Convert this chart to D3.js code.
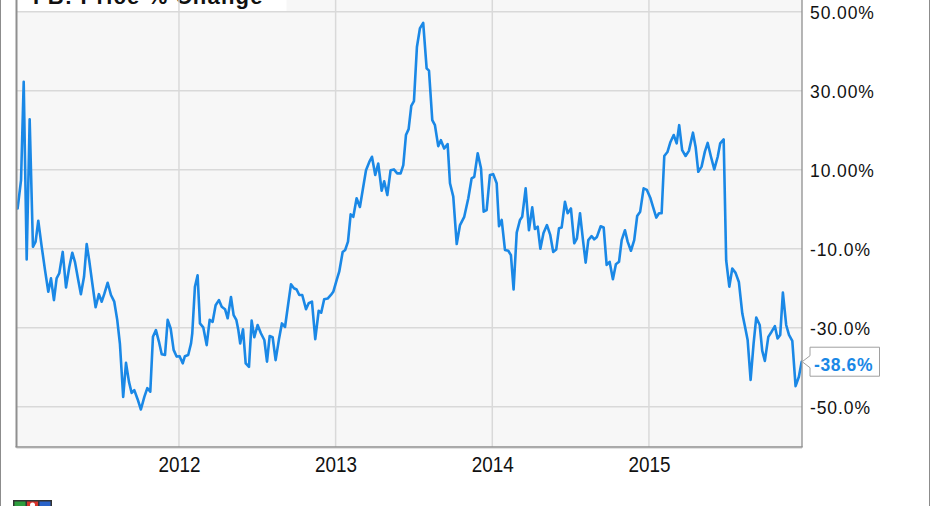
<!DOCTYPE html>
<html>
<head>
<meta charset="utf-8">
<script src="https://cdn.jsdelivr.net/npm/d3@7"></script>
<style>
  html, body { margin: 0; padding: 0; background: #fff; }
  svg { display: block; font-family: "Liberation Sans", Arial, sans-serif; }
</style>
</head>
<body>
<svg id="chart" width="931" height="506"></svg>
<script>
// ---- data ----
const dates = [
  2010.970, 2010.992, 2011.009, 2011.028, 2011.047, 2011.068, 2011.085, 2011.102, 2011.124, 2011.145,
  2011.166, 2011.183, 2011.202, 2011.219, 2011.236, 2011.258, 2011.279, 2011.300, 2011.319, 2011.336,
  2011.357, 2011.374, 2011.394, 2011.411, 2011.427, 2011.447, 2011.468, 2011.489, 2011.507, 2011.523,
  2011.545, 2011.566, 2011.587, 2011.606, 2011.623, 2011.644, 2011.662, 2011.681, 2011.698, 2011.715,
  2011.736, 2011.757, 2011.779, 2011.798, 2011.817, 2011.834, 2011.853, 2011.872, 2011.890, 2011.911,
  2011.928, 2011.947, 2011.966, 2011.985, 2012.004, 2012.024, 2012.038, 2012.059, 2012.077, 2012.085,
  2012.102, 2012.119, 2012.134, 2012.155, 2012.177, 2012.196, 2012.215, 2012.234, 2012.255, 2012.273,
  2012.294, 2012.311, 2012.332, 2012.349, 2012.366, 2012.379, 2012.391, 2012.409, 2012.426, 2012.447,
  2012.464, 2012.481, 2012.502, 2012.523, 2012.545, 2012.562, 2012.579, 2012.598, 2012.617, 2012.638,
  2012.657, 2012.677, 2012.698, 2012.715, 2012.734, 2012.751, 2012.768, 2012.787, 2012.811, 2012.828,
  2012.849, 2012.870, 2012.892, 2012.908, 2012.927, 2012.949, 2012.970, 2012.985, 2013.007, 2013.023,
  2013.045, 2013.061, 2013.079, 2013.096, 2013.113, 2013.134, 2013.155, 2013.173, 2013.194, 2013.215,
  2013.232, 2013.253, 2013.272, 2013.294, 2013.310, 2013.330, 2013.351, 2013.372, 2013.393, 2013.415,
  2013.432, 2013.449, 2013.466, 2013.483, 2013.500, 2013.519, 2013.538, 2013.559, 2013.581, 2013.596,
  2013.617, 2013.634, 2013.655, 2013.672, 2013.693, 2013.715, 2013.730, 2013.751, 2013.773, 2013.794,
  2013.821, 2013.847, 2013.868, 2013.885, 2013.907, 2013.928, 2013.945, 2013.964, 2013.985, 2014.006,
  2014.028, 2014.043, 2014.060, 2014.081, 2014.102, 2014.119, 2014.136, 2014.156, 2014.177, 2014.191,
  2014.213, 2014.234, 2014.255, 2014.272, 2014.290, 2014.307, 2014.327, 2014.349, 2014.370, 2014.389,
  2014.408, 2014.426, 2014.443, 2014.464, 2014.481, 2014.502, 2014.523, 2014.540, 2014.560, 2014.579,
  2014.596, 2014.613, 2014.634, 2014.651, 2014.668, 2014.692, 2014.711, 2014.730, 2014.749, 2014.770,
  2014.789, 2014.809, 2014.826, 2014.847, 2014.864, 2014.885, 2014.906, 2014.925, 2014.944, 2014.966,
  2014.987, 2015.008, 2015.027, 2015.047, 2015.064, 2015.081, 2015.098, 2015.118, 2015.136, 2015.158,
  2015.177, 2015.193, 2015.212, 2015.234, 2015.255, 2015.281, 2015.298, 2015.315, 2015.336, 2015.357,
  2015.375, 2015.396, 2015.417, 2015.439, 2015.455, 2015.477, 2015.493, 2015.513, 2015.532, 2015.553,
  2015.574, 2015.596, 2015.613, 2015.630, 2015.649, 2015.668, 2015.685, 2015.707, 2015.723, 2015.740,
  2015.762, 2015.783, 2015.804, 2015.821, 2015.838, 2015.855, 2015.876, 2015.894, 2015.915, 2015.936,
  2015.957, 2015.975
];
const values = [
  0.2, 7.4, 32.3, -12.7, 22.8, -9.5, -8.2, -2.9, -9.5, -15.4,
  -20.9, -17.5, -23.0, -17.5, -16.2, -10.8, -19.8, -14.6, -11.0, -13.3,
  -17.9, -21.5, -17.1, -8.8, -12.9, -18.8, -24.8, -21.5, -23.4, -21.5,
  -18.6, -21.7, -23.4, -28.0, -34.0, -47.5, -38.9, -43.7, -46.5, -45.8,
  -48.1, -50.7, -47.5, -45.3, -46.2, -32.3, -30.6, -33.5, -36.7, -36.9,
  -28.0, -30.2, -35.6, -37.3, -37.2, -39.0, -37.2, -36.9, -34.0, -31.4,
  -19.6, -16.7, -28.9, -29.9, -34.4, -28.0, -28.5, -24.3, -23.0, -24.7,
  -25.3, -27.6, -22.2, -26.8, -28.0, -30.6, -34.0, -30.4, -39.0, -39.9,
  -28.2, -32.4, -29.3, -31.4, -33.1, -38.6, -32.1, -32.4, -38.2, -33.0,
  -28.9, -29.8, -23.8, -19.0, -20.0, -20.3, -21.7, -21.7, -25.3, -23.8,
  -23.4, -32.9, -25.7, -26.2, -22.8, -22.6, -21.7, -20.9, -17.9, -15.8,
  -10.8, -10.3, -8.2, -1.3, -1.9, 2.8, 0.6, 4.9, 9.9, 12.0,
  13.3, 8.7, 11.6, 4.7, 7.1, 3.6, 9.9, 10.1, 9.1, 9.1,
  11.2, 18.8, 20.3, 26.2, 27.4, 41.1, 45.8, 47.2, 35.7, 35.1,
  22.6, 21.3, 16.0, 17.5, 15.4, 16.5, 6.6, 3.2, -8.8, -4.0,
  -1.9, 2.8, 7.8, 8.2, 14.2, 10.4, -0.6, -0.2, 8.7, 8.9,
  6.6, -4.3, -2.7, -10.3, -10.5, -11.6, -20.3, -5.9, -2.7, -1.9,
  5.3, -5.3, 0.5, -5.0, -4.4, -10.0, -6.0, -4.0, -6.5, -10.8,
  -10.2, -4.8, -4.6, 1.9, -1.0, 0.2, -8.6, -7.4, -1.0, -7.8,
  -13.5, -7.8, -6.8, -7.6, -7.0, -4.3, -4.6, -14.1, -13.3, -17.7,
  -13.9, -13.3, -7.8, -5.3, -8.2, -10.5, -7.8, -1.7, -0.6, 5.3,
  4.9, 3.0, 0.5, -2.1, -1.0, -1.0, 13.5, 14.5, 16.9, 18.8,
  16.7, 21.3, 15.0, 13.5, 14.8, 19.4, 15.8, 9.5, 10.8, 14.6,
  16.8, 13.3, 10.1, 13.3, 16.7, 17.7, -12.9, -19.6, -15.0, -16.1,
  -18.4, -26.4, -29.7, -33.1, -43.2, -34.0, -27.4, -29.3, -35.8, -38.4,
  -32.3, -31.0, -29.6, -32.7, -31.8, -21.1, -29.3, -31.8, -33.3, -44.8,
  -42.4, -38.6
];
const yearTicks = [2012, 2013, 2014, 2015];
const yearLabels = ["2012", "2013", "2014", "2015"];
const yTicks = [50, 30, 10, -10, -30, -50];
const yTickLabels = ["50.00%", "30.00%", "10.00%", "-10.0%", "-30.0%", "-50.0%"];
const titleText = "FB: Price % Change";
const lastLabel = "-38.6%";

// ---- layout ----
const plot = { left: 16.5, right: 802, top: 0, bottom: 447 };
const blue = "#1a88e6";

const svg = d3.select("#chart");
const x = d3.scaleLinear().domain([2010.963, 2015.977]).range([plot.left, plot.right]);
const y = d3.scaleLinear().domain([-60.2, 53.0]).range([plot.bottom, plot.top]);

// outer frame
svg.append("line").attr("x1", 0.5).attr("x2", 0.5).attr("y1", 0).attr("y2", 506)
  .attr("stroke", "#8c8c8c").attr("stroke-width", 1);
svg.append("line").attr("x1", 929.5).attr("x2", 929.5).attr("y1", 0).attr("y2", 506)
  .attr("stroke", "#8c8c8c").attr("stroke-width", 1);

// plot background
svg.append("rect").attr("x", plot.left).attr("y", plot.top)
  .attr("width", plot.right - plot.left).attr("height", plot.bottom - plot.top)
  .attr("fill", "#f7f7f7");

// title box (white) behind gridlines
svg.append("rect").attr("x", plot.left).attr("y", 0).attr("width", 270).attr("height", 11.5)
  .attr("fill", "#ffffff");
svg.append("text").attr("x", 33).attr("y", 3.5)
  .attr("font-size", 22).attr("font-weight", "bold").attr("letter-spacing", 1.2)
  .attr("fill", "#111").text(titleText);

// gridlines
const grid = svg.append("g");
grid.selectAll(".hg").data(yTicks).join("line")
  .attr("x1", plot.left).attr("x2", plot.right)
  .attr("y1", d => y(d)).attr("y2", d => y(d))
  .attr("stroke", "#d9d9d9").attr("stroke-width", 1.5);
grid.selectAll(".vg").data(yearTicks).join("line")
  .attr("x1", d => x(d)).attr("x2", d => x(d))
  .attr("y1", plot.top).attr("y2", plot.bottom)
  .attr("stroke", "#d9d9d9").attr("stroke-width", 1.5);

// clip
svg.append("clipPath").attr("id", "clip").append("rect")
  .attr("x", plot.left).attr("y", plot.top)
  .attr("width", plot.right - plot.left).attr("height", plot.bottom - plot.top);

// series line
const series = dates.map((d, i) => ({ t: d, v: values[i] }));
const line = d3.line().x(d => x(d.t)).y(d => y(d.v));
svg.append("path").datum(series)
  .attr("clip-path", "url(#clip)")
  .attr("d", line).attr("fill", "none")
  .attr("stroke", blue).attr("stroke-width", 2.6)
  .attr("stroke-linejoin", "round").attr("stroke-linecap", "round");

// plot borders
svg.append("line").attr("x1", plot.left).attr("x2", plot.left).attr("y1", 0).attr("y2", plot.bottom)
  .attr("stroke", "#8f8f8f").attr("stroke-width", 2);
svg.append("line").attr("x1", plot.right).attr("x2", plot.right).attr("y1", 0).attr("y2", plot.bottom)
  .attr("stroke", "#8f8f8f").attr("stroke-width", 1.3);
svg.append("line").attr("x1", plot.left - 1).attr("x2", plot.right + 0.6).attr("y1", plot.bottom).attr("y2", plot.bottom)
  .attr("stroke", "#8f8f8f").attr("stroke-width", 1.5);
svg.append("line").attr("x1", plot.left).attr("x2", plot.right).attr("y1", plot.bottom + 1.5).attr("y2", plot.bottom + 1.5)
  .attr("stroke", "#e2e2e2").attr("stroke-width", 1.2);

// right axis labels
const yAxis = d3.axisRight(y).tickValues(yTicks)
  .tickFormat((d) => yTickLabels[yTicks.indexOf(d)])
  .tickSize(0).tickPadding(8);
const gy = svg.append("g").attr("transform", `translate(${plot.right},0)`).call(yAxis);
gy.select(".domain").remove();
gy.selectAll("text").attr("dy", "0.39em")
  .attr("font-size", 17.5).attr("letter-spacing", 0.9)
  .attr("font-family", "'Liberation Sans', Arial, sans-serif").attr("fill", "#111");

// bottom axis labels
const xAxis = d3.axisBottom(x).tickValues(yearTicks)
  .tickFormat((d) => yearLabels[yearTicks.indexOf(d)])
  .tickSize(0).tickPadding(9);
const gx = svg.append("g").attr("transform", `translate(0,${plot.bottom})`).call(xAxis);
gx.select(".domain").remove();
gx.selectAll("text").attr("font-size", 22)
  .attr("font-family", "'Liberation Sans', Arial, sans-serif").attr("fill", "#111")
  .attr("textLength", 42).attr("lengthAdjust", "spacingAndGlyphs")
  .attr("text-anchor", "middle");

// end-value callout
const last = series[series.length - 1];
const ly = y(last.v), lx = x(last.t);
const bx0 = plot.right + 8, bx1 = plot.right + 77.5;
const callout = `M${bx0},${ly - 14.5} L${bx1},${ly - 14.5} L${bx1},${ly + 14.5} L${bx0},${ly + 14.5} L${bx0},${ly + 6} L${lx + 0.5},${ly} L${bx0},${ly - 6} Z`;
svg.append("path").attr("d", callout).attr("fill", "#fff").attr("stroke", "#a0a0a0").attr("stroke-width", 1);
svg.append("text").attr("x", bx0 + 4).attr("y", ly + 9.3)
  .attr("font-size", 17.5).attr("font-weight", "bold").attr("letter-spacing", 0.6)
  .attr("fill", blue).text(lastLabel);

// small logo at bottom-left
const logo = svg.append("g").attr("transform", "translate(13,500)");
logo.append("rect").attr("x", 0).attr("y", 0).attr("width", 39).attr("height", 7).attr("fill", "#333");
logo.append("rect").attr("x", 1.5).attr("y", 1.5).attr("width", 11).attr("height", 6).attr("fill", "#2e9e3e");
logo.append("rect").attr("x", 14).attr("y", 1.5).attr("width", 11).attr("height", 6).attr("fill", "#d9342b");
logo.append("rect").attr("x", 26.5).attr("y", 1.5).attr("width", 11).attr("height", 6).attr("fill", "#2a63c9");
logo.append("circle").attr("cx", 19.5).attr("cy", 5).attr("r", 2.5).attr("fill", "#fff");
</script>
</body>
</html>
